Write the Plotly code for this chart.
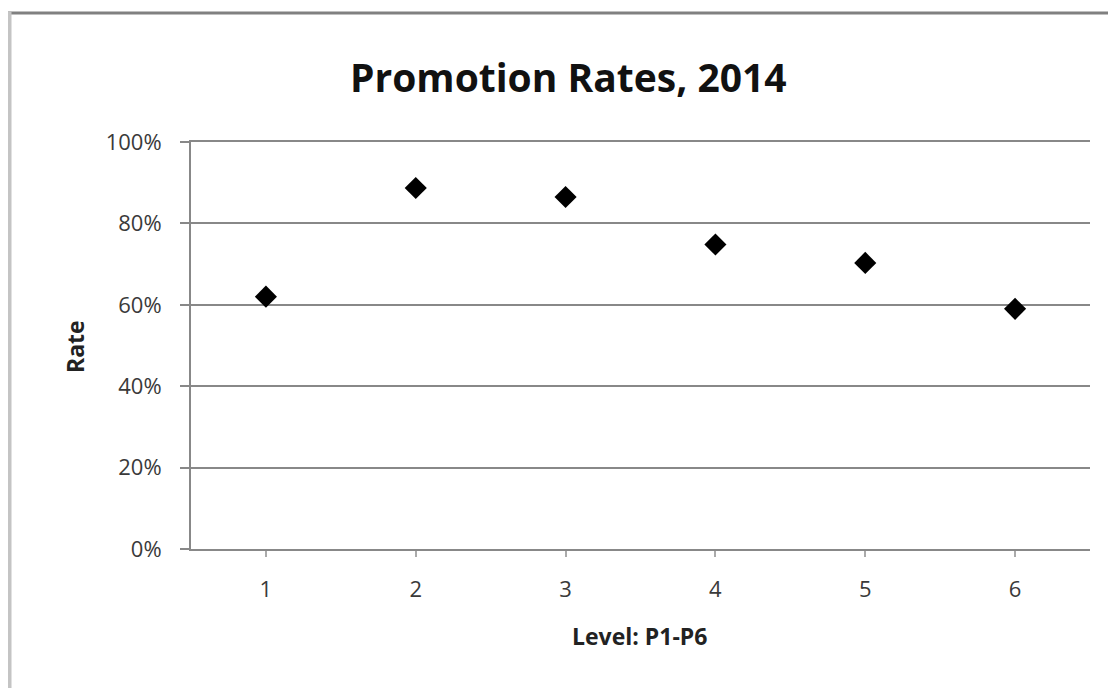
import plotly.graph_objects as go

levels = [1, 2, 3, 4, 5, 6]
rates = [0.62, 0.887, 0.865, 0.748, 0.703, 0.59]
y_ticks = [0, 0.2, 0.4, 0.6, 0.8, 1.0]
y_tick_labels = ["0%", "20%", "40%", "60%", "80%", "100%"]

# page body has an 8px margin, so the figure is laid out in page coords minus 8
OFF = 8
W, H = 1116 - OFF, 688 - OFF
L, R, T, B = 191 - OFF, 26, 142 - OFF, 139

FONT = "'Open Sans', Lato, sans-serif"

fig = go.Figure()
fig.add_trace(go.Scatter(
    x=levels, y=rates, mode="markers",
    marker=dict(symbol="diamond", size=17, color="black", line=dict(width=0)),
    showlegend=False, hoverinfo="skip",
))

fig.update_layout(
    width=W, height=H,
    margin=dict(l=L, r=R, t=T, b=B),
    paper_bgcolor="white", plot_bgcolor="white",
    font=dict(family=FONT, color="#333333"),
    showlegend=False,
)
fig.update_xaxes(
    range=[0.5, 6.5], tickvals=levels, ticktext=[str(v) for v in levels],
    showgrid=False, zeroline=False,
    showline=True, linecolor="#888888", linewidth=2, mirror=True,
    ticks="outside", ticklen=6, tickwidth=2, tickcolor="#aaaaaa",
    ticklabelstandoff=14,
    tickfont=dict(size=22, color="#3a3a3a"),
)
fig.update_yaxes(
    range=[0, 1.0], tickvals=y_ticks, ticktext=y_tick_labels,
    showgrid=True, gridcolor="#888888", gridwidth=2,
    zeroline=False,
    showline=True, linecolor="#888888", linewidth=2,
    ticks="outside", ticklen=9, tickwidth=2, tickcolor="#888888",
    ticklabelstandoff=14,
    tickfont=dict(size=22, color="#3a3a3a"),
)

def px_x(px):
    return (px - OFF - L) / (W - L - R)

def px_y(py):
    return (H - B - (py - OFF)) / (H - T - B)

# title
fig.add_annotation(
    text="<b>Promotion Rates, 2014</b>", xref="paper", yref="paper",
    x=px_x(568), y=px_y(76),
    xanchor="center", yanchor="middle", showarrow=False,
    font=dict(size=39, color="#111111", family=FONT),
)
# axis titles
fig.add_annotation(
    text="<b>Level: P1-P6</b>", xref="paper", yref="paper",
    x=px_x(639), y=px_y(636),
    xanchor="center", yanchor="middle", showarrow=False,
    font=dict(size=23, color="#222222", family=FONT),
)
fig.add_annotation(
    text="<b>Rate</b>", xref="paper", yref="paper",
    x=px_x(75), y=px_y(347), textangle=-90,
    xanchor="center", yanchor="middle", showarrow=False,
    font=dict(size=23, color="#222222", family=FONT),
)

# outer chart border (top and left)
fig.add_shape(type="line", xref="paper", yref="paper",
              x0=px_x(8), x1=px_x(1120), y0=px_y(13), y1=px_y(13),
              line=dict(color="#808080", width=3))
fig.add_shape(type="line", xref="paper", yref="paper",
              x0=px_x(9.5), x1=px_x(9.5), y0=px_y(12), y1=px_y(690),
              line=dict(color="#c4c4c4", width=4))

fig.write_html("out.html")
